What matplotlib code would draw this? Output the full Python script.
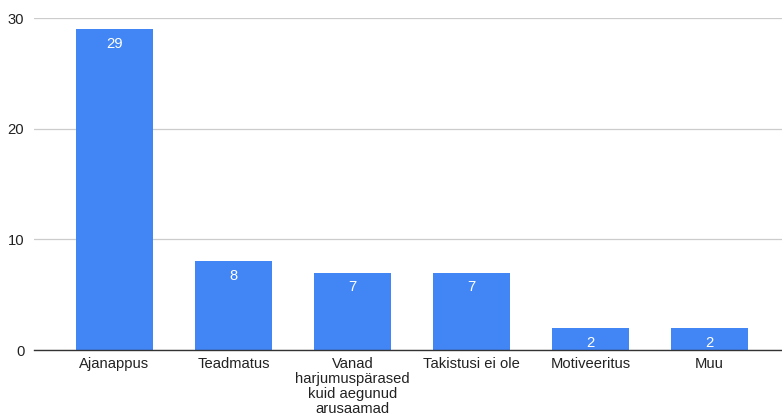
import matplotlib.pyplot as plt
import numpy as np

categories = [
    "Ajanappus",
    "Teadmatus",
    "Vanad\nharjumuspärased\nkuid aegunud\narusaamad",
    "Takistusi ei ole",
    "Motiveeritus",
    "Muu",
]
counts = [29, 8, 7, 7, 2, 2]
y_ticks = [0, 10, 20, 30]

BAR_COLOR = "#4285F4"
FS = 10.6
plt.rcParams["font.family"] = ["Liberation Sans", "DejaVu Sans"]

fig = plt.figure(figsize=(7.82, 4.16), dpi=100)
ax = fig.add_axes([34 / 782, 1 - 350 / 416, 1 - 34 / 782, (350 - 18) / 416])

x = np.arange(len(categories))
bars = ax.bar(x, counts, width=77 / 119, color=BAR_COLOR, zorder=3)
for b, v in zip(bars, counts):
    ax.annotate(str(v), (b.get_x() + b.get_width() / 2, v), xytext=(0, -5.5),
                textcoords="offset points", ha="center", va="top",
                color="white", fontsize=FS, zorder=4)

ax.set_xlim((34 - 114.5) / 119, (782 - 114.5) / 119)
ax.set_ylim(0, 30)
ax.set_yticks(y_ticks)
ax.set_xticks(x)
ax.set_xticklabels(categories, fontsize=FS, color="#222222", linespacing=1.1)
ax.tick_params(axis="y", labelsize=FS, colors="#222222", length=0, pad=7)
ax.tick_params(axis="x", length=0, pad=5)
ax.yaxis.grid(True, color="#cccccc", lw=0.9, zorder=0)
for s in ["top", "right", "left"]:
    ax.spines[s].set_visible(False)
ax.spines["bottom"].set_color("#333333")
ax.spines["bottom"].set_linewidth(1.0)
ax.spines["bottom"].set_zorder(5)

fig.savefig("out.png", dpi=100)
